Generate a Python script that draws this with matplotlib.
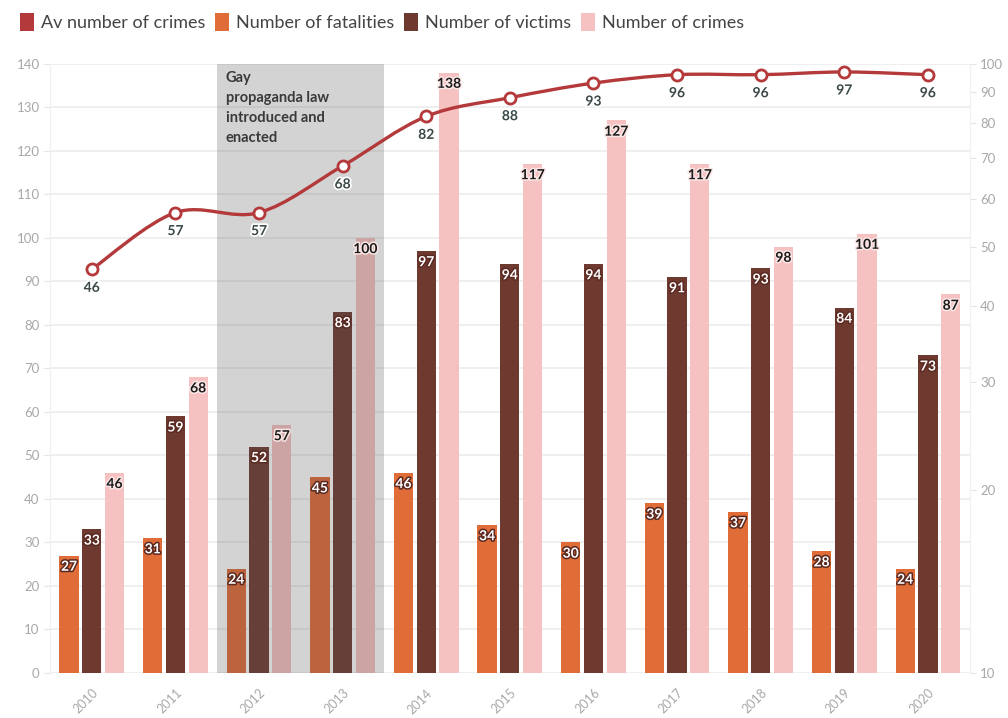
import numpy as np
import matplotlib
matplotlib.use("Agg")
import matplotlib.pyplot as plt
import matplotlib.patheffects as pe
from matplotlib.path import Path
from matplotlib.patches import PathPatch, Patch

plt.rcParams['font.family'] = ['Lato', 'DejaVu Sans']

years = ['2010', '2011', '2012', '2013', '2014', '2015', '2016', '2017', '2018', '2019', '2020']
fatalities = [27, 31, 24, 45, 46, 34, 30, 39, 37, 28, 24]
victims = [33, 59, 52, 83, 97, 94, 94, 91, 93, 84, 73]
crimes = [46, 68, 57, 100, 138, 117, 127, 117, 98, 101, 87]
av_crimes = [46, 57, 57, 68, 82, 88, 93, 96, 96, 97, 96]

band_years = ('2012', '2013')
band_text = 'Gay\npropaganda law\nintroduced and\nenacted'

c_line = '#b3393b'
c_fat = '#e06c37'
c_vic = '#6e3a30'
c_cri = '#f6c1c1'
c_tick = '#a8a8a8'

fig = plt.figure(figsize=(10.08, 7.18), dpi=100)
ax = fig.add_axes([0.0496, 0.0627, 0.9124, 0.8483])
ax2 = ax.twinx()

x = np.arange(len(years))
w = 0.23
off = 0.272

ax.bar(x - off, fatalities, w, color=c_fat, zorder=2)
ax.bar(x, victims, w, color=c_vic, zorder=2)
ax.bar(x + off, crimes, w, color=c_cri, zorder=2)

# shaded period drawn over the bars
i0 = years.index(band_years[0])
i1 = years.index(band_years[1])
ax.axvspan(i0 - 0.5, i1 + 0.5, color='#505050', alpha=0.25, lw=0, zorder=3)
ax.text(i0 - 0.4, 138.3, band_text, ha='left', va='top', fontsize=10.5,
        fontweight='bold', color='#3a3a3a', linespacing=1.55, zorder=5)

white_fx = [pe.withStroke(linewidth=2.2, foreground='#5a2a22')]
dark_fx = [pe.withStroke(linewidth=2.2, foreground='#fbe6e6')]
for xs, vals, tc, fx in [(x - off, fatalities, 'white', white_fx),
                         (x, victims, 'white', white_fx),
                         (x + off, crimes, '#1a1a1a', dark_fx)]:
    for xi, v in zip(xs, vals):
        ax.text(xi, v - 1.2, str(v), ha='center', va='top', fontsize=10,
                fontweight='bold', color=tc, path_effects=fx, zorder=6)

ax.set_xlim(-0.5, len(years) - 0.5)
ax.set_ylim(0, 140)
ax.set_yticks(range(0, 141, 10))
ax.grid(axis='y', color='#ececec', lw=1.2, zorder=0)
ax.set_axisbelow(True)
ax.set_xticks(x)
ax.set_xticklabels(years, rotation=45, ha='right', rotation_mode='anchor')
ax.tick_params(axis='x', length=0, pad=10, labelsize=9, labelcolor=c_tick)
ax.tick_params(axis='y', length=4, color='#e4e4e4', labelsize=9.5, labelcolor=c_tick)

# average line on log scale, smoothed with cubic bezier segments
ax2.set_yscale('log')
ax2.set_ylim(10, 100)
ax2.set_yticks(range(10, 101, 10))
ax2.set_yticklabels([str(t) for t in range(10, 101, 10)])
ax2.yaxis.set_minor_locator(matplotlib.ticker.NullLocator())
ax2.tick_params(axis='y', length=4, color='#e4e4e4', labelsize=9.5, labelcolor=c_tick)

ly = np.log10(av_crimes)
pts = np.column_stack([x, ly])
ext = np.vstack([pts[0], pts, pts[-1]])
verts = [pts[0]]
codes = [Path.MOVETO]
for i in range(len(pts) - 1):
    p0, p1, p2, p3 = ext[i], ext[i + 1], ext[i + 2], ext[i + 3]
    verts += [p1 + (p2 - p0) / 6, p2 - (p3 - p1) / 6, p2]
    codes += [Path.CURVE4] * 3
verts = np.array(verts)
verts[:, 1] = 10 ** verts[:, 1]
ax2.add_patch(PathPatch(Path(verts, codes), facecolor='none', edgecolor=c_line,
                        lw=2.4, zorder=4))
ax2.plot(x, av_crimes, 'o', ms=8, mfc='white', mec=c_line, mew=2, zorder=5)
for xi, v in zip(x, av_crimes):
    ax2.annotate(str(v), (xi, v), xytext=(0, -9), textcoords='offset points',
                 ha='center', va='top', fontsize=10, fontweight='bold',
                 color='#3b4848', zorder=6,
                 path_effects=[pe.withStroke(linewidth=2.5, foreground='white')])

for a in (ax, ax2):
    for s in ('top', 'bottom'):
        a.spines[s].set_visible(False)
    a.spines['left'].set_color('#f0f0f0')
    a.spines['right'].set_color('#f0f0f0')

handles = [Patch(facecolor=c, edgecolor='none') for c in (c_line, c_fat, c_vic, c_cri)]
labels = ['Av number of crimes', 'Number of fatalities', 'Number of victims', 'Number of crimes']
fig.legend(handles, labels, loc='upper left', bbox_to_anchor=(0.004, 1.005), ncol=4,
           frameon=False, fontsize=13, handlelength=0.75, handleheight=1.15,
           handletextpad=0.4, columnspacing=0.55, labelcolor='#444444')

fig.savefig('out.png', dpi=100)
